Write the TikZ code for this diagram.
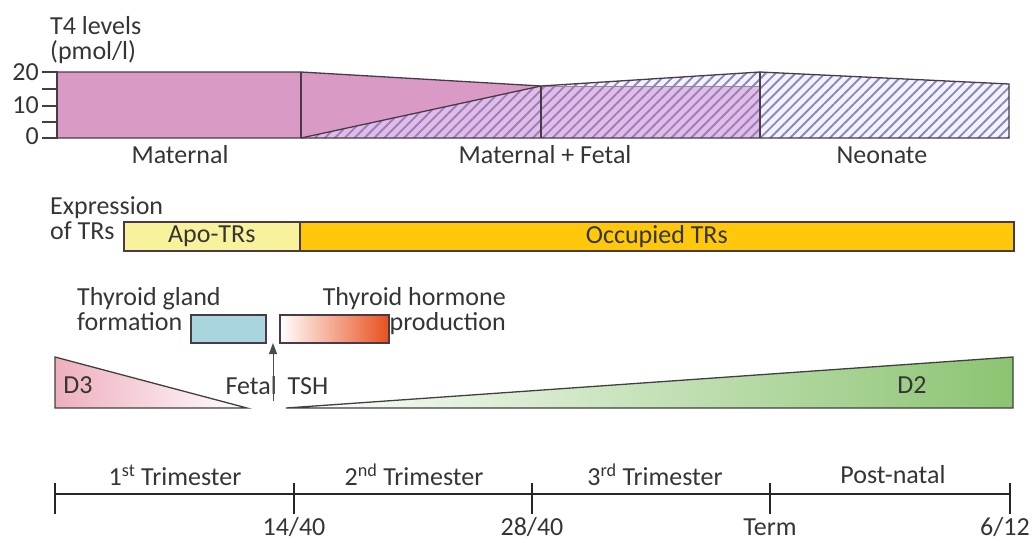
\documentclass[tikz,border=0pt]{standalone}
\usepackage{fontspec}
\setmainfont{Carlito}
\usetikzlibrary{patterns.meta,arrows.meta}
\definecolor{maternal}{HTML}{D99BC6}
\definecolor{mixbg}{HTML}{E6BAE4}
\definecolor{hatchc}{HTML}{8C86C0}
\definecolor{neobg}{HTML}{F2F2FB}
\definecolor{outl}{HTML}{4A3A48}
\definecolor{apo}{HTML}{F8F29C}
\definecolor{occ}{HTML}{FFC80A}
\definecolor{gland}{HTML}{A9D5DE}
\definecolor{hormone}{HTML}{E8501E}
\definecolor{dthree}{HTML}{EEAFBE}
\definecolor{dtwo}{HTML}{8CC472}
\definecolor{txt}{HTML}{353535}
\begin{document}
\begin{tikzpicture}[x=1pt,y=-1pt,
  lbl/.style={font=\fontsize{26}{25}\selectfont, text=txt, inner sep=0pt},
  hatchfill/.style={pattern={Lines[angle=45,distance=7pt,line width=1.9pt]}, pattern color=hatchc},
  outline/.style={draw=outl, line width=1.3pt},
  barbox/.style={draw=outl, line width=1.6pt, inner sep=0pt, anchor=north west, font=\fontsize{26}{26}\selectfont, text=txt},
  tl/.style={draw=black!85, line width=2.6pt},
  tri/.style={draw=black!75, line width=1.3pt, line join=miter}]
\useasboundingbox (0,0) rectangle (1036,542);

% ---------- T4 levels chart ----------
\node[lbl, anchor=base west, align=left] (t4a) at (50,59) {T4 levels\\(pmol/l)};
\node[lbl, anchor=east] (v20) at (39,72) {20};
\node[lbl, anchor=east] (v10) at (39,105) {10};
\node[lbl, anchor=east] (v0) at (39,136) {0};

\fill[maternal] (57,72) rectangle (301,138);
\fill[maternal] (301,72) -- (541,86) -- (301,138) -- cycle;
\fill[mixbg] (301,138) -- (541,86) -- (541,138) -- cycle;
\fill[hatchfill] (301,138) -- (541,86) -- (541,138) -- cycle;
\fill[neobg] (541,86) -- (760,72) -- (1009,84) -- (1009,138) -- (541,138) -- cycle;
\fill[mixbg] (541,86) rectangle (759,138);
\fill[hatchfill] (541,86) -- (760,72) -- (1009,84) -- (1009,138) -- (541,138) -- cycle;

\draw[outline, draw=outl!60, line width=1pt] (541,86) -- (759,86);
\draw[outline] (57,72) -- (301,72) -- (541,86) -- (760,72) -- (1009,84) -- (1009,138) -- (57,138);
\draw[outline] (301,72) -- (301,138);
\draw[outline] (301,138) -- (541,86);
\draw[outline, line width=2.4pt] (541,86) -- (541,138);
\draw[outline] (760,72) -- (760,138);
\draw[outline, line width=2pt] (57,71) -- (57,139);
\foreach \yy in {72,89,106,122,138} \draw[outline, line width=1.6pt] (42,\yy) -- (57,\yy);

\node[lbl] (mat) at (180,155) {Maternal};
\node[lbl] (matfet) at (545,155) {Maternal + Fetal};
\node[lbl] (neo) at (882,155) {Neonate};

% ---------- Expression of TRs ----------
\node[lbl, anchor=base west, align=left] (expr) at (50,239) {Expression\\of TRs};
\node[barbox, fill=apo, minimum width=176pt, minimum height=29pt] (apotr) at (123,221) {Apo-TRs};
\node[barbox, fill=occ, minimum width=890pt-176pt, minimum height=29pt] (occtr) at (299,221) {Occupied TRs};

% ---------- Thyroid ----------
\node[lbl, anchor=base west, align=left] (tg) at (77,330) {Thyroid gland\\formation};
\node[lbl, anchor=base east, align=right] (th) at (506,330) {Thyroid hormone\\production};
\node[barbox, fill=gland, minimum width=75pt, minimum height=28pt] (glandbox) at (190,314) {};
\node[barbox, left color=white, right color=hormone, minimum width=109pt, minimum height=28pt] (hormbox) at (279,314) {};

\node[lbl] (tsh) at (277,386) {Fetal\hspace{5pt} TSH};
\coordinate (tshfoot) at (273,401);
\coordinate (gap) at (273,343);
\draw[draw=black!70, line width=1pt, -{Triangle[length=11pt,width=8pt]}] (tshfoot) -- (gap);

% ---------- Deiodinases ----------
\shade[left color=dthree, right color=white] (55,357) -- (55,408) -- (247,408) -- cycle;
\draw[tri] (55,357) -- (55,408) -- (247,408) -- cycle;
\shade[left color=white, right color=dtwo] (286,408) -- (1013,357) -- (1013,408) -- cycle;
\draw[tri] (286,408) -- (1013,357) -- (1013,408) -- cycle;
\node[lbl] (d3) at (78,385) {D3};
\node[lbl] (d2) at (912,385) {D2};

% ---------- Timeline ----------
\coordinate (t0) at (55,494);
\coordinate (t1) at (294,494);
\coordinate (t2) at (532,494);
\coordinate (t3) at (770,494);
\coordinate (t4) at (1010,494);
\draw[tl] (t0) -- (t4);
\foreach \xx in {55,294,532,770,1010} \draw[tl] (\xx,483) -- (\xx,514);

\node[lbl] (tri1) at (175,475) {1\textsuperscript{st} Trimester};
\node[lbl] (tri2) at (414,475) {2\textsuperscript{nd} Trimester};
\node[lbl] (tri3) at (655,475) {3\textsuperscript{rd} Trimester};
\node[lbl] (post) at (893,475) {Post-natal};
\node[lbl] (w14) at (294,527) {14/40};
\node[lbl] (w28) at (532,527) {28/40};
\node[lbl] (term) at (770,527) {Term};
\node[lbl] (m6) at (1005,527) {6/12};
\end{tikzpicture}
\end{document}
